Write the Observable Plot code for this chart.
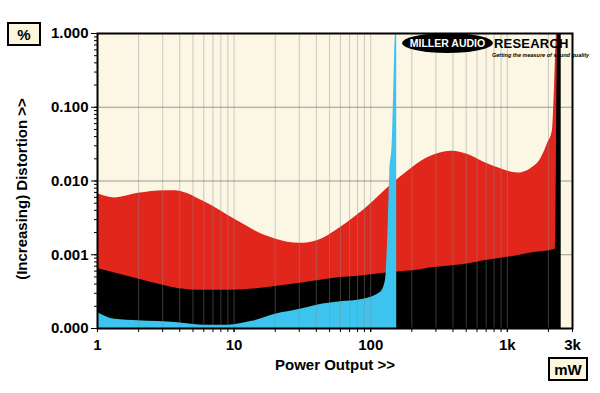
<!DOCTYPE html>
<html><head><meta charset="utf-8">
<script src="https://cdn.jsdelivr.net/npm/d3@7"></script>
<script src="https://cdn.jsdelivr.net/npm/@observablehq/plot@0.6"></script>
<style>
body{margin:0;background:#fff;}
#wrap{position:relative;width:600px;height:393px;font-family:"Liberation Sans",Arial,sans-serif;}
.box{position:absolute;border:2px solid #000;background:#fbf6dc;font-weight:bold;font-size:15px;display:flex;align-items:center;justify-content:center;box-sizing:border-box;color:#000;}
#ell{position:absolute;left:402px;top:33px;width:91px;height:20px;border-radius:50%;background:#000;color:#fff;font-weight:bold;font-size:10.5px;display:flex;align-items:center;justify-content:center;letter-spacing:0px;}
#res{position:absolute;left:494px;top:36px;font-weight:bold;font-size:13px;color:#000;letter-spacing:0.2px;}
#tag{position:absolute;left:492px;top:52px;font-weight:bold;font-style:italic;font-size:5.5px;color:#000;white-space:nowrap;}
</style></head>
<body><div id="wrap"></div>
<script>
// Power output (mW) and distortion (%)
const redX = [1, 1.34, 1.98, 3.12, 3.7, 4.5, 5.5, 6.9, 9.04, 13.1, 14.3, 20, 30.5, 40.4, 60, 88.4, 135, 165, 196, 219, 290, 396, 510, 675, 895, 1186, 1485, 1758, 1968, 2143, 2220, 2300, 2380];
const redY = [0.0067, 0.0059, 0.0068, 0.0074, 0.0074, 0.0068, 0.0057, 0.0046, 0.0034, 0.0023, 0.0021, 0.00164, 0.00143, 0.00155, 0.00235, 0.0040, 0.0082, 0.0113, 0.0145, 0.017, 0.0225, 0.0254, 0.023, 0.018, 0.0147, 0.0128, 0.0147, 0.020, 0.032, 0.049, 0.2, 1, 1];
const blackX = [1, 1.98, 3.12, 3.88, 6.13, 9.04, 13.1, 30.5, 60, 88.4, 124, 165, 196, 290, 396, 510, 675, 895, 1186, 1570, 2143, 2250, 2340, 2480];
const blackY = [0.00065, 0.00047, 0.00038, 0.00035, 0.00033, 0.00033, 0.00034, 0.00041, 0.00049, 0.00052, 0.00056, 0.00059, 0.0006, 0.00067, 0.00071, 0.00075, 0.00083, 0.0009, 0.00097, 0.00107, 0.00116, 0.0012, 1, 1];
const blueX = [1, 1.34, 1.98, 3.88, 6.13, 9.04, 13.5, 20, 30.5, 40.4, 60, 88.4, 118, 128, 133, 138, 144, 147, 152, 155];
const blueY = [0.000165, 0.000133, 0.000127, 0.00012, 0.000111, 0.000111, 0.000125, 0.000156, 0.000182, 0.000207, 0.00023, 0.00025, 0.00031, 0.00044, 0.00155, 0.0127, 0.036, 0.14, 1, 1];

const xTicks = [1, 10, 100, 1000, 3000];
const xTickLabels = ["1", "10", "100", "1k", "3k"];
const yTicks = [0.0001, 0.001, 0.01, 0.1, 1];
const yTickLabels = ["0.000", "0.001", "0.010", "0.100", "1.000"];

const toRows = (xs, ys) => xs.map((x, i) => ({x, y: ys[i]}));
const red = toRows(redX, redY), black = toRows(blackX, blackY), blue = toRows(blueX, blueY);

const xMinor = [];
for (const d of [1, 10, 100, 1000]) for (let k = 1; k <= 9; k++) if (d * k <= 3000) xMinor.push(d * k);
const yMinor = [];
for (const d of [0.0001, 0.001, 0.01, 0.1]) for (let k = 1; k <= 9; k++) yMinor.push(d * k);
const xLab = new Map(xTicks.map((t, i) => [t, xTickLabels[i]]));
const yLab = new Map(yTicks.map((t, i) => [t, yTickLabels[i]]));

const base = () => 0.0001;
const plot = Plot.plot({
  width: 600, height: 393,
  marginTop: 33, marginBottom: 65, marginLeft: 97, marginRight: 28,
  style: {fontFamily: "'Liberation Sans', Arial, sans-serif", fontWeight: "bold", fontSize: "15px", background: "#fff", color: "#000"},
  x: {type: "log", domain: [1, 3000]},
  y: {type: "log", domain: [0.0001, 1]},
  marks: [
    Plot.frame({fill: "#fbf7e4"}),
    Plot.ruleY(yTicks.slice(1, -1), {stroke: "#9a9a92", strokeWidth: 1}),
    Plot.areaY(red, {x: "x", y1: base, y2: "y", fill: "#e1261c", curve: "monotone-x", clip: true}),
    Plot.areaY(black, {x: "x", y1: base, y2: "y", fill: "#000", curve: "monotone-x", clip: true}),
    Plot.areaY(blue, {x: "x", y1: base, y2: "y", fill: "#3cc3ee", curve: "monotone-x", clip: true}),
    Plot.ruleX(xMinor.filter(v => v > 1), {stroke: "#8a8a8a", strokeOpacity: 0.42, strokeWidth: 1}),
    Plot.axisX({ticks: xMinor, tickSize: 4, tickFormat: () => "", label: null}),
    Plot.axisX({ticks: xTicks, tickSize: 4, tickPadding: 7, tickFormat: d => xLab.get(d), label: null, fontSize: 15}),
    Plot.axisY({ticks: yMinor, tickSize: 3, tickFormat: () => "", label: null}),
    Plot.axisY({ticks: yTicks, tickSize: 6, tickPadding: 3, tickFormat: d => yLab.get(d), label: null, fontSize: 15}),
    Plot.frame({stroke: "#000", strokeWidth: 2}),
    Plot.text(["Power Output >>"], {frameAnchor: "bottom", dy: 41, fontSize: 15, fontWeight: "bold", fill: "#000"}),
    Plot.text(["(Increasing) Distortion >>"], {frameAnchor: "left", textAnchor: "middle", dx: -75, dy: 8, rotate: -90, fontSize: 15, fontWeight: "bold", fill: "#000"})
  ]
});
const wrap = document.getElementById("wrap");
wrap.appendChild(plot);
wrap.insertAdjacentHTML("beforeend",
  '<div class="box" style="left:7px;top:22px;width:34px;height:24px;">%</div>' +
  '<div class="box" style="left:548px;top:357px;width:40px;height:24px;">mW</div>' +
  '<div id="ell">MILLER AUDIO</div><div id="res">RESEARCH</div>' +
  '<div id="tag">Getting the measure of sound quality</div>');
</script>
</body></html>
